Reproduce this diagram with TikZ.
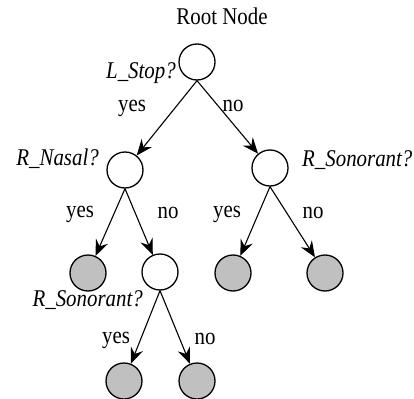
\documentclass[tikz,border=0pt]{standalone}
\usepackage{fontspec}
\setmainfont{Liberation Serif}[FakeStretch=0.87]
\usetikzlibrary{arrows.meta}
\definecolor{leafgray}{RGB}{192,192,192}
\tikzset{
  inner/.style={circle, draw=black, line width=1.3pt, fill=white, minimum size=36pt, inner sep=0pt},
  leaf/.style={inner, fill=leafgray},
  edge/.style={line width=1.1pt, -{Stealth[length=16pt,width=13pt,inset=5.5pt]}},
  lbl/.style={inner sep=0pt, anchor=base, font=\fontsize{24}{28}\selectfont},
  qlbl/.style={lbl, font=\fontsize{24}{28}\selectfont\itshape}
}
\begin{document}
\begin{tikzpicture}[x=1pt,y=-1pt]
\useasboundingbox (0,0) rectangle (414,398);
\node[inner] (root) at (197,62) {};
\node[inner] (L) at (125,170) {};
\node[inner] (R) at (270,168) {};
\node[leaf] (LL) at (88,273) {};
\node[inner] (LR) at (160,272) {};
\node[leaf] (RL) at (233,273) {};
\node[leaf] (RR) at (325,273) {};
\node[leaf] (LRL) at (124,381) {};
\node[leaf] (LRR) at (197,381) {};

\node[lbl] (rootlbl) at (222,25) {Root Node};
\node[qlbl, anchor=base east] (q1) at (176,79) {L\_Stop?};
\node[qlbl, anchor=base east] (q2) at (99,165) {R\_Nasal?};
\node[qlbl, anchor=base west] (q3) at (302,166) {R\_Sonorant?};
\node[qlbl, anchor=base east] (q4) at (143,306) {R\_Sonorant?};

\draw[edge] (root.south) -- (L);
\draw[edge] (root.south) -- (R);
\draw[edge] (L.south) -- (LL);
\draw[edge] (L.south) -- (LR);
\draw[edge] (R.south) -- (RL);
\draw[edge] (R.south) -- (RR);
\draw[edge] (LR.south) -- (LRL);
\draw[edge] (LR.south) -- (LRR);

\node[lbl] (y1) at (132,112) {yes};
\node[lbl] (n1) at (233,112) {no};
\node[lbl] (y2) at (80,217) {yes};
\node[lbl] (n2) at (168,218) {no};
\node[lbl] (y3) at (227,217) {yes};
\node[lbl] (n3) at (313,218) {no};
\node[lbl] (y4) at (116,343) {yes};
\node[lbl] (n4) at (205,344) {no};
\end{tikzpicture}
\end{document}
